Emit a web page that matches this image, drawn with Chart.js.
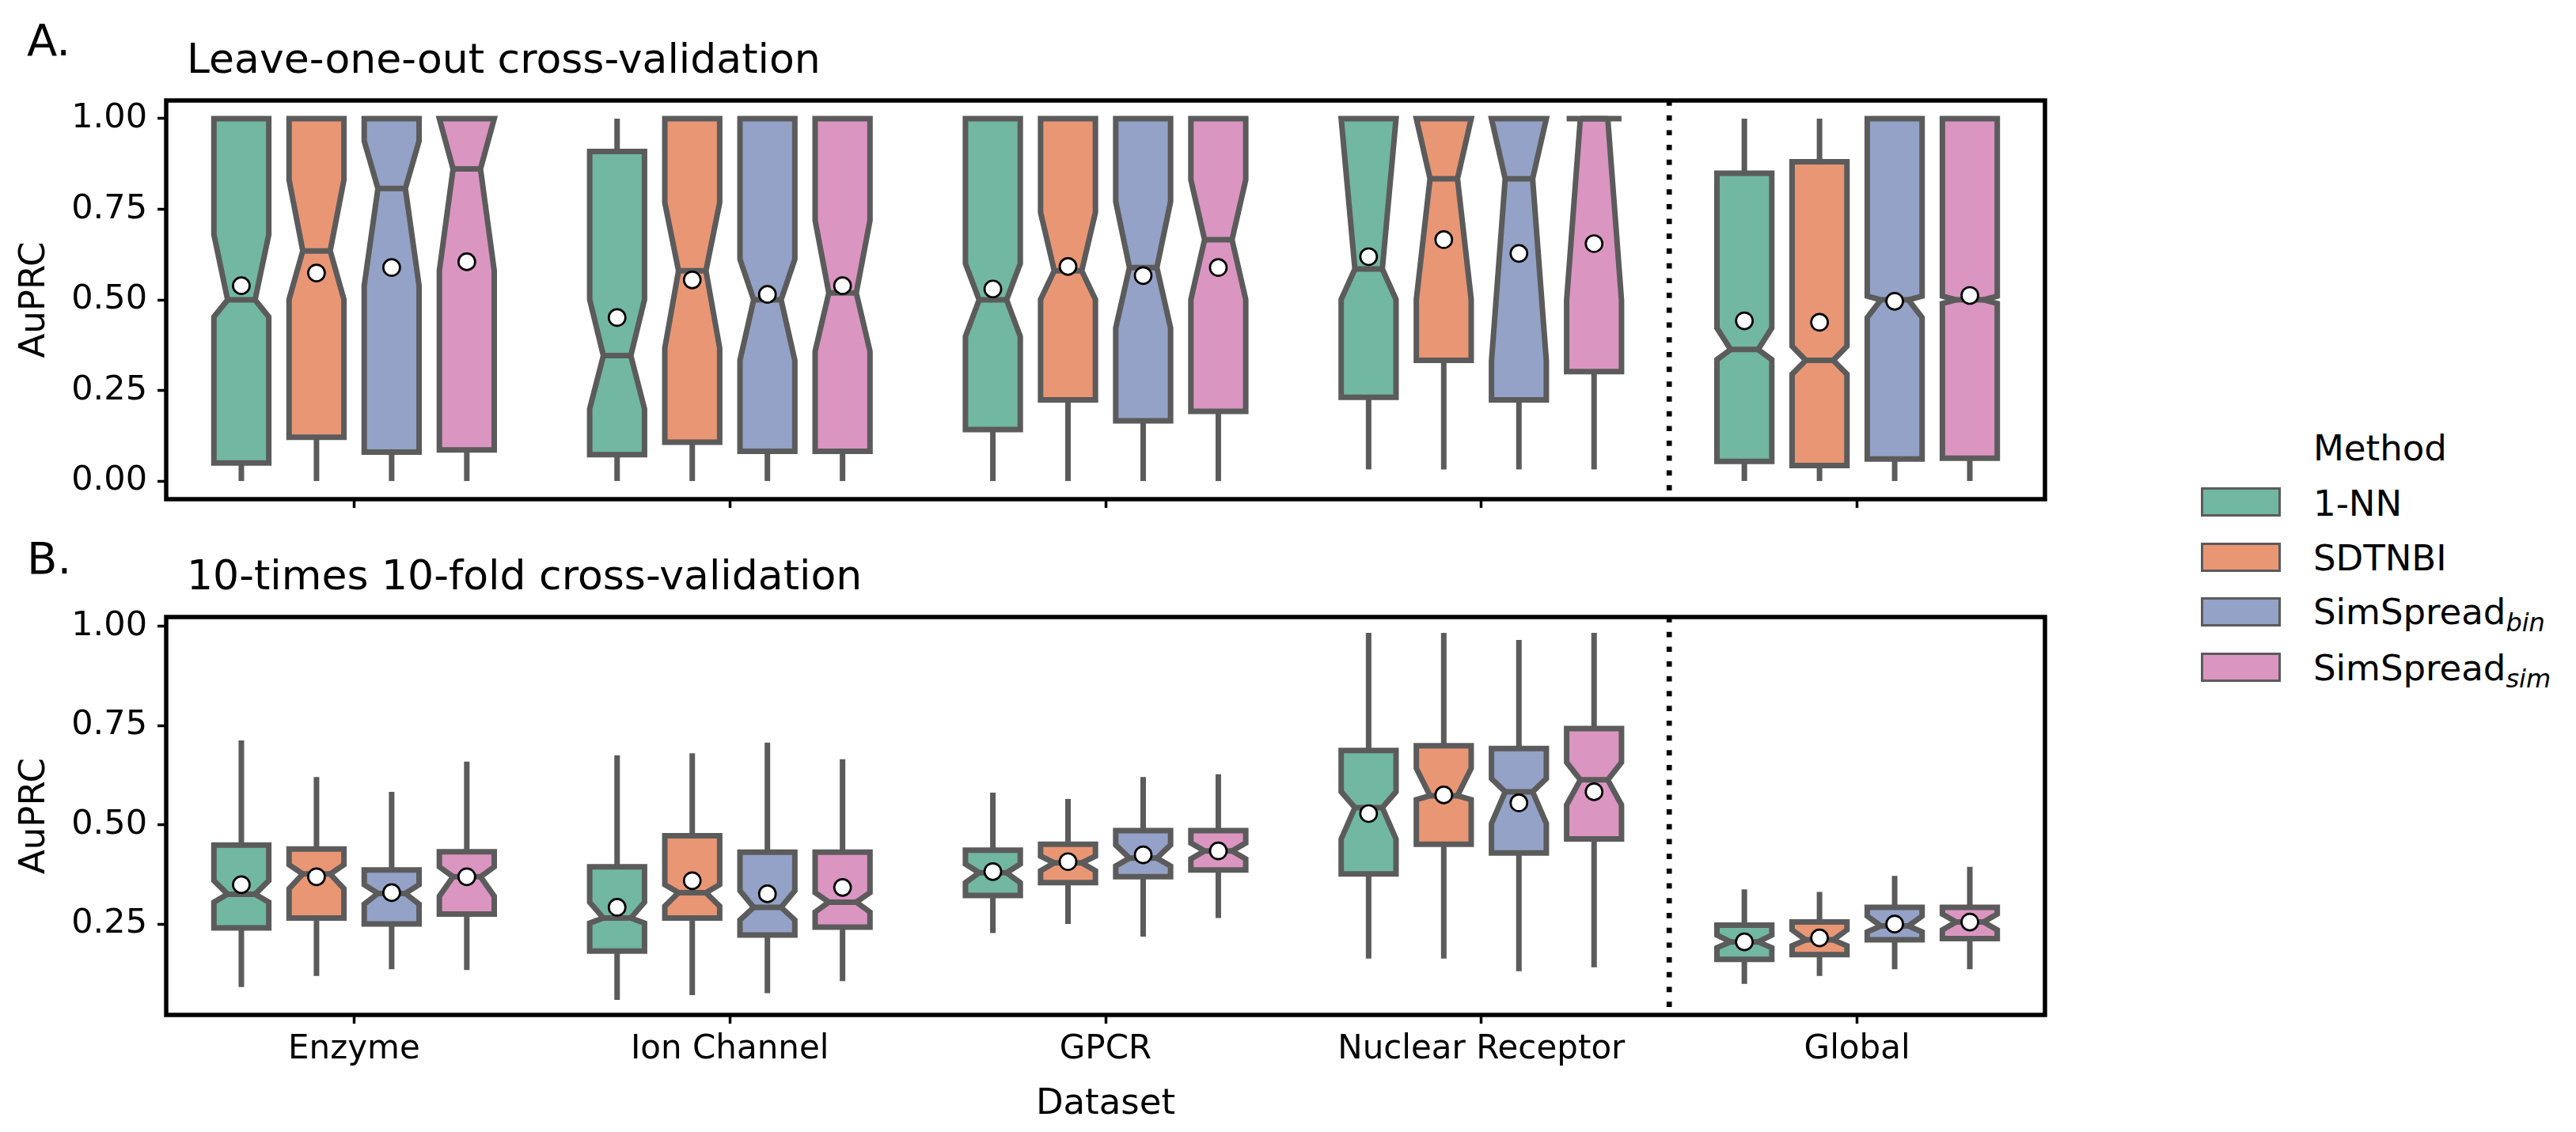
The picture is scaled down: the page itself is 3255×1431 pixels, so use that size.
<!DOCTYPE html>
<html>
<head>
<meta charset="utf-8">
<script src="https://cdn.jsdelivr.net/npm/chart.js@4.4.1/dist/chart.umd.min.js"></script>
<style>
  body { margin: 0; background: #fff; font-family: "DejaVu Sans", sans-serif; color: #000; }
  #page { position: relative; width: 3255px; height: 1431px; overflow: hidden; }
  canvas { position: absolute; left: 0; }
  .txt { position: absolute; white-space: nowrap; line-height: 1; }
  .patch { position: absolute; left: 2781px; width: 101px; height: 37px; box-sizing: border-box; border: 3px solid #5b5b5b; }
  .sub { font-size: 32px; font-style: italic; vertical-align: -9px; }
</style>
</head>
<body>
<div id="page">
  <canvas id="looChart" width="2700" height="671" style="top:0"></canvas>
  <canvas id="foldChart" width="2700" height="771" style="top:660px"></canvas>

  <div class="txt" style="left:34px; top:23px; font-size:56px">A.</div>
  <div class="txt" style="left:236px; top:48px; font-size:52px">Leave-one-out cross-validation</div>
  <div class="txt" style="left:34px; top:678px; font-size:56px">B.</div>
  <div class="txt" style="left:236px; top:701px; font-size:52px">10-times 10-fold cross-validation</div>

  <div class="txt" style="left:2923px; top:544px; font-size:45px">Method</div>
  <div class="patch" style="top:616px; background:#71b7a1"></div>
  <div class="txt" style="left:2923px; top:614px; font-size:45px">1-NN</div>
  <div class="patch" style="top:686px; background:#e99675"></div>
  <div class="txt" style="left:2923px; top:683px; font-size:45px">SDTNBI</div>
  <div class="patch" style="top:755px; background:#93a2c6"></div>
  <div class="txt" style="left:2923px; top:751px; font-size:45px">SimSpread<span class="sub">bin</span></div>
  <div class="patch" style="top:825px; background:#db95c1"></div>
  <div class="txt" style="left:2923px; top:822px; font-size:45px">SimSpread<span class="sub">sim</span></div>
</div>

<script>
// categories and methods
const categories = ["Enzyme", "Ion Channel", "GPCR", "Nuclear Receptor", "Global"];
const methods = ["1-NN", "SDTNBI", "SimSpread_bin", "SimSpread_sim"];
const colors = ["#71b7a1", "#e99675", "#93a2c6", "#db95c1"];

const looTicks = [0, 0.25, 0.5, 0.75, 1];
const foldTicks = [0.25, 0.5, 0.75, 1];

// Leave-one-out: one row per method, one value per category
const looWhiskerLow = [
  [0.00, 0.00, 0.00, 0.032, 0.00],
  [0.00, 0.00, 0.00, 0.032, 0.00],
  [0.00, 0.00, 0.00, 0.032, 0.00],
  [0.00, 0.00, 0.00, 0.032, 0.00]
];
const looQ1 = [
  [0.050, 0.073, 0.142, 0.231, 0.054],
  [0.121, 0.107, 0.224, 0.333, 0.043],
  [0.080, 0.082, 0.166, 0.224, 0.061],
  [0.086, 0.082, 0.192, 0.302, 0.063]
];
const looNotchLow = [
  [0.453, 0.199, 0.399, 0.501, 0.335],
  [0.501, 0.367, 0.501, 0.501, 0.295],
  [0.539, 0.333, 0.422, 0.331, 0.451],
  [0.580, 0.358, 0.501, 0.499, 0.490]
];
const looMedian = [
  [0.500, 0.346, 0.500, 0.585, 0.363],
  [0.635, 0.580, 0.580, 0.834, 0.333],
  [0.807, 0.500, 0.589, 0.834, 0.500],
  [0.861, 0.519, 0.666, 1.000, 0.500]
];
const looNotchHigh = [
  [0.680, 0.501, 0.600, 1.000, 0.422],
  [0.831, 0.768, 0.741, 1.000, 0.372],
  [0.938, 0.612, 0.771, 1.000, 0.510],
  [1.000, 0.719, 0.831, 1.000, 0.510]
];
const looQ3 = [
  [1.000, 0.909, 1.000, 1.000, 0.849],
  [1.000, 1.000, 1.000, 1.000, 0.881],
  [1.000, 1.000, 1.000, 1.000, 1.000],
  [1.000, 1.000, 1.000, 1.000, 1.000]
];
const looWhiskerHigh = [
  [1, 1, 1, 1, 1],
  [1, 1, 1, 1, 1],
  [1, 1, 1, 1, 1],
  [1, 1, 1, 1, 1]
];
const looMean = [
  [0.539, 0.451, 0.530, 0.619, 0.442],
  [0.574, 0.555, 0.592, 0.666, 0.438],
  [0.589, 0.515, 0.567, 0.628, 0.496],
  [0.605, 0.539, 0.589, 0.655, 0.512]
];

// 10-times 10-fold
const foldWhiskerLow = [
  [0.091, 0.059, 0.227, 0.163, 0.099],
  [0.119, 0.071, 0.250, 0.163, 0.119],
  [0.136, 0.076, 0.218, 0.131, 0.136],
  [0.134, 0.106, 0.265, 0.141, 0.136]
];
const foldQ1 = [
  [0.240, 0.182, 0.322, 0.376, 0.161],
  [0.265, 0.265, 0.354, 0.451, 0.173],
  [0.250, 0.222, 0.369, 0.429, 0.210],
  [0.275, 0.242, 0.386, 0.464, 0.213]
];
const foldNotchLow = [
  [0.305, 0.252, 0.354, 0.464, 0.190],
  [0.339, 0.295, 0.384, 0.563, 0.195],
  [0.300, 0.260, 0.396, 0.503, 0.230],
  [0.320, 0.280, 0.414, 0.550, 0.235]
];
const foldMedian = [
  [0.325, 0.265, 0.379, 0.543, 0.205],
  [0.376, 0.329, 0.404, 0.573, 0.210],
  [0.327, 0.292, 0.416, 0.583, 0.245],
  [0.369, 0.305, 0.434, 0.613, 0.255]
];
const foldNotchHigh = [
  [0.359, 0.305, 0.401, 0.583, 0.222],
  [0.399, 0.349, 0.421, 0.642, 0.235],
  [0.349, 0.334, 0.449, 0.616, 0.270],
  [0.394, 0.329, 0.454, 0.657, 0.275]
];
const foldQ3 = [
  [0.449, 0.394, 0.436, 0.687, 0.247],
  [0.439, 0.472, 0.451, 0.699, 0.255],
  [0.386, 0.431, 0.485, 0.692, 0.292],
  [0.432, 0.431, 0.485, 0.742, 0.292]
];
const foldWhiskerHigh = [
  [0.712, 0.675, 0.581, 0.983, 0.337],
  [0.620, 0.680, 0.565, 0.983, 0.331],
  [0.583, 0.707, 0.620, 0.965, 0.371],
  [0.659, 0.665, 0.627, 0.983, 0.394]
];
const foldMean = [
  [0.349, 0.292, 0.382, 0.528, 0.205],
  [0.369, 0.359, 0.407, 0.575, 0.215],
  [0.329, 0.326, 0.424, 0.555, 0.250],
  [0.369, 0.342, 0.434, 0.583, 0.255]
];

Chart.defaults.font.family = "DejaVu Sans";
Chart.defaults.color = "#000";

const offsets = [-0.3, -0.1, 0.1, 0.3];
const boxWidth = 0.146;
const edgeGray = "#5b5b5b";

// draws the notched boxes, whiskers and the dotted separator through the chart scales
function notchedBoxes(s) {
  return {
    id: "notchedBoxes",
    beforeDatasetsDraw(chart) {
      const { ctx, chartArea: a, scales: { x, y } } = chart;
      ctx.save();
      ctx.beginPath();
      ctx.rect(a.left, a.top, a.width, a.height);
      ctx.clip();

      // dotted line between Nuclear Receptor and Global
      const sx = x.getPixelForValue(3.5);
      ctx.beginPath();
      ctx.setLineDash([6.7, 12]);
      ctx.lineWidth = 6.7;
      ctx.strokeStyle = "#000";
      ctx.moveTo(sx, a.top);
      ctx.lineTo(sx, a.bottom);
      ctx.stroke();
      ctx.setLineDash([]);

      ctx.strokeStyle = edgeGray;
      ctx.lineWidth = 7;
      ctx.lineJoin = "miter";
      ctx.lineCap = "butt";
      methods.forEach((m, mi) => {
        categories.forEach((c, ci) => {
          const pos = ci + offsets[mi];
          const L = x.getPixelForValue(pos - boxWidth / 2);
          const R = x.getPixelForValue(pos + boxWidth / 2);
          const nL = x.getPixelForValue(pos - boxWidth / 4);
          const nR = x.getPixelForValue(pos + boxWidth / 4);
          const X = x.getPixelForValue(pos);
          const q1 = s.q1[mi][ci], q3 = s.q3[mi][ci], med = s.median[mi][ci];
          const nlo = Math.max(s.notchLow[mi][ci], q1);
          const nhi = Math.min(s.notchHigh[mi][ci], q3);

          // whiskers
          ctx.beginPath();
          ctx.moveTo(X, y.getPixelForValue(q1));
          ctx.lineTo(X, y.getPixelForValue(s.whiskerLow[mi][ci]));
          ctx.moveTo(X, y.getPixelForValue(q3));
          ctx.lineTo(X, y.getPixelForValue(s.whiskerHigh[mi][ci]));
          ctx.stroke();

          // notched box
          const pts = [
            [R, q1], [R, nlo], [nR, med], [R, nhi], [R, q3],
            [L, q3], [L, nhi], [nL, med], [L, nlo], [L, q1]
          ];
          ctx.beginPath();
          pts.forEach(([px, v], i) => {
            const py = y.getPixelForValue(v);
            if (i === 0) ctx.moveTo(px, py); else ctx.lineTo(px, py);
          });
          ctx.closePath();
          ctx.fillStyle = colors[mi];
          ctx.fill();
          ctx.stroke();

          // median
          ctx.beginPath();
          ctx.moveTo(nL, y.getPixelForValue(med));
          ctx.lineTo(nR, y.getPixelForValue(med));
          ctx.stroke();
        });
      });
      ctx.restore();
    },
    afterDraw(chart) {
      const { ctx, chartArea: a } = chart;
      ctx.save();
      ctx.strokeStyle = "#000";
      ctx.lineWidth = 5.5;
      ctx.strokeRect(a.left, a.top, a.width, a.height);
      ctx.restore();
    }
  };
}

function meanPoints(means) {
  const pts = [];
  means.forEach((row, mi) => row.forEach((v, ci) => pts.push({ x: ci + offsets[mi], y: v })));
  return pts;
}

function makeChart(id, stats, yMin, yMax, yTicks, opts) {
  const ctx = document.getElementById(id).getContext("2d");
  return new Chart(ctx, {
    type: "scatter",
    data: {
      datasets: [{
        label: "mean",
        data: meanPoints(stats.mean),
        pointRadius: 10.5,
        pointHoverRadius: 10.5,
        pointBackgroundColor: "#fff",
        pointBorderColor: "#000",
        pointBorderWidth: 2.7
      }]
    },
    options: {
      responsive: false,
      animation: false,
      devicePixelRatio: 1,
      layout: { padding: { left: 0, top: opts.top, right: 116, bottom: 0 } },
      plugins: { legend: { display: false }, tooltip: { enabled: false } },
      scales: {
        x: {
          type: "linear",
          min: -0.5,
          max: 4.5,
          afterBuildTicks: axis => { axis.ticks = categories.map((c, i) => ({ value: i })); },
          afterFit: axis => { axis.height = opts.xHeight; },
          grid: { drawOnChartArea: false, drawTicks: true, tickLength: 11, tickWidth: 3.5, tickColor: "#000" },
          border: { display: false },
          ticks: {
            padding: 8,
            font: { size: 42 },
            callback: (v, i) => opts.xLabels ? categories[i] : ""
          },
          title: {
            display: opts.xLabels,
            text: "Dataset",
            font: { size: 45 },
            padding: { top: 0, bottom: 8 }
          }
        },
        y: {
          min: yMin,
          max: yMax,
          afterBuildTicks: axis => { axis.ticks = yTicks.map(v => ({ value: v })); },
          afterFit: axis => { axis.width = 210; },
          grid: { drawOnChartArea: false, drawTicks: true, tickLength: 11, tickWidth: 3.5, tickColor: "#000" },
          border: { display: false },
          ticks: { padding: 13, font: { size: 43 }, callback: v => Number(v).toFixed(2) },
          title: { display: true, text: "AuPRC", font: { size: 45 }, padding: { top: 17, bottom: 0 } }
        }
      }
    },
    plugins: [notchedBoxes(stats)]
  });
}

makeChart("looChart", {
  whiskerLow: looWhiskerLow, q1: looQ1, notchLow: looNotchLow, median: looMedian,
  notchHigh: looNotchHigh, q3: looQ3, whiskerHigh: looWhiskerHigh, mean: looMean
}, -0.05, 1.05, looTicks, { top: 127, xHeight: 40, xLabels: false });

makeChart("foldChart", {
  whiskerLow: foldWhiskerLow, q1: foldQ1, notchLow: foldNotchLow, median: foldMedian,
  notchHigh: foldNotchHigh, q3: foldQ3, whiskerHigh: foldWhiskerHigh, mean: foldMean
}, 0.021, 1.023, foldTicks, { top: 120, xHeight: 148, xLabels: true });
</script>
</body>
</html>
